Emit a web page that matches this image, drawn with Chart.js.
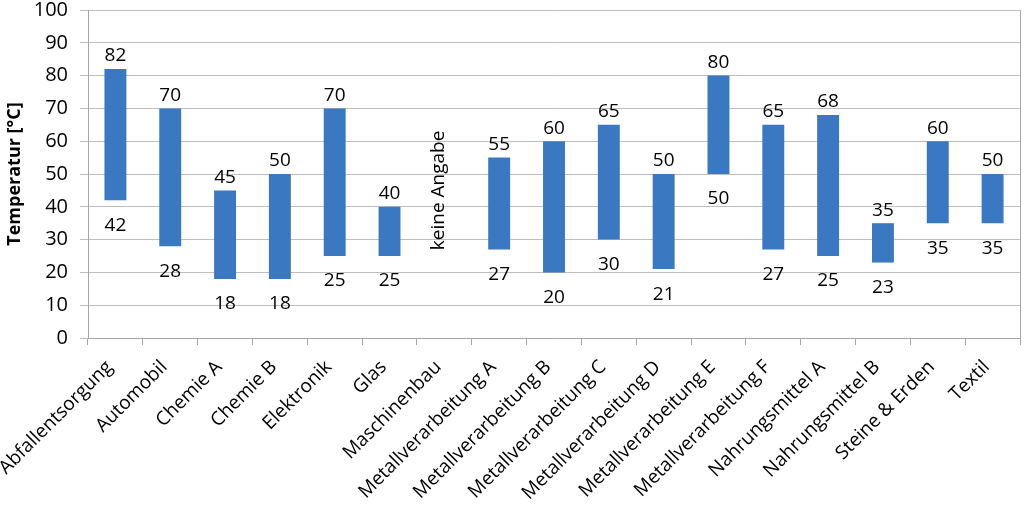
<!DOCTYPE html>
<html>
<head>
<meta charset="utf-8">
<script src="https://cdn.jsdelivr.net/npm/chart.js@4/dist/chart.umd.min.js"></script>
<style>
  html, body { margin: 0; padding: 0; background: #fff; }
</style>
</head>
<body>
<canvas id="myChart" width="1024" height="508"></canvas>
<script>
var categories = ["Abfallentsorgung", "Automobil", "Chemie A", "Chemie B", "Elektronik", "Glas",
    "Maschinenbau", "Metallverarbeitung A", "Metallverarbeitung B", "Metallverarbeitung C",
    "Metallverarbeitung D", "Metallverarbeitung E", "Metallverarbeitung F", "Nahrungsmittel A",
    "Nahrungsmittel B", "Steine & Erden", "Textil"];
var minTemp = [42, 28, 18, 18, 25, 25, null, 27, 20, 30, 21, 50, 27, 25, 23, 35, 35];
var maxTemp = [82, 70, 45, 50, 70, 40, null, 55, 60, 65, 50, 80, 65, 68, 35, 60, 50];
var yTicks = [0, 10, 20, 30, 40, 50, 60, 70, 80, 90, 100];
var noDataText = "keine Angabe";

var FONT = "'Open Sans', sans-serif";

var ranges = categories.map(function(c, i) {
    return minTemp[i] === null ? null : [minTemp[i], maxTemp[i]];
});

// value labels above/below each bar, plus the "no data" note
var rangeLabels = {
    id: 'rangeLabels',
    afterDatasetsDraw: function(chart) {
        var ctx = chart.ctx;
        var x = chart.scales.x, y = chart.scales.y;
        ctx.save();
        ctx.fillStyle = '#000';
        ctx.font = '19px ' + FONT;
        ctx.textAlign = 'center';
        ctx.textBaseline = 'middle';
        categories.forEach(function(c, i) {
            var cx = x.getPixelForValue(i);
            if (minTemp[i] === null) {
                ctx.save();
                ctx.translate(cx - 6, y.getPixelForValue(45));
                ctx.rotate(-Math.PI / 2);
                ctx.fillText(noDataText, 0, 0);
                ctx.restore();
                return;
            }
            ctx.fillText(String(maxTemp[i]), cx, y.getPixelForValue(maxTemp[i]) - 13);
            ctx.fillText(String(minTemp[i]), cx, y.getPixelForValue(minTemp[i]) + 25);
        });
        ctx.restore();
    }
};

var config = {
    type: 'bar',
    data: {
        labels: categories,
        datasets: [{
            label: 'Temperatur',
            data: ranges,
            backgroundColor: '#3b78c2',
            borderWidth: 0,
            barPercentage: 0.4,
            categoryPercentage: 1
        }]
    },
    options: {
        responsive: false,
        animation: false,
        devicePixelRatio: 1,
        layout: { padding: { top: 0, right: 4, left: 0, bottom: 0 } },
        plugins: {
            legend: { display: false },
            tooltip: { enabled: false }
        },
        scales: {
            x: {
                afterFit: function(scale) { scale.height = 170; scale.paddingLeft = 0; },
                grid: {
                    offset: true,
                    drawOnChartArea: false,
                    color: '#a6a6a6',
                    tickLength: 7
                },
                border: { color: '#a6a6a6' },
                ticks: {
                    color: '#000',
                    font: { family: FONT, size: 19 },
                    minRotation: 45,
                    maxRotation: 45,
                    autoSkip: false,
                    padding: 11,
                    labelOffset: -6
                }
            },
            y: {
                min: 0,
                max: 100,
                afterBuildTicks: function(axis) {
                    axis.ticks = yTicks.map(function(v) { return { value: v }; });
                },
                afterFit: function(scale) {
                    scale.paddingTop = 10;
                    scale.paddingBottom = 0;
                    scale.width = 88;
                },
                grid: { color: '#bfbfbf', tickLength: 8 },
                border: { color: '#a6a6a6' },
                ticks: {
                    color: '#000',
                    font: { family: FONT, size: 20 },
                    padding: 12
                },
                title: {
                    display: true,
                    text: 'Temperatur [°C]',
                    color: '#000',
                    font: { family: FONT, size: 18, weight: 'bold' },
                    padding: 4
                }
            }
        }
    },
    plugins: [rangeLabels, {
        id: 'rightBorder',
        afterDraw: function(chart) {
            var a = chart.chartArea, ctx = chart.ctx;
            ctx.save();
            ctx.strokeStyle = '#a6a6a6';
            ctx.lineWidth = 1;
            ctx.beginPath();
            ctx.moveTo(a.right + 0.5, a.top);
            ctx.lineTo(a.right + 0.5, a.bottom);
            ctx.stroke();
            ctx.restore();
        }
    }]
};

window.onload = function() {
    var ctx = document.getElementById("myChart");
    window.myChart = new Chart(ctx, config);
};
</script>
</body>
</html>
